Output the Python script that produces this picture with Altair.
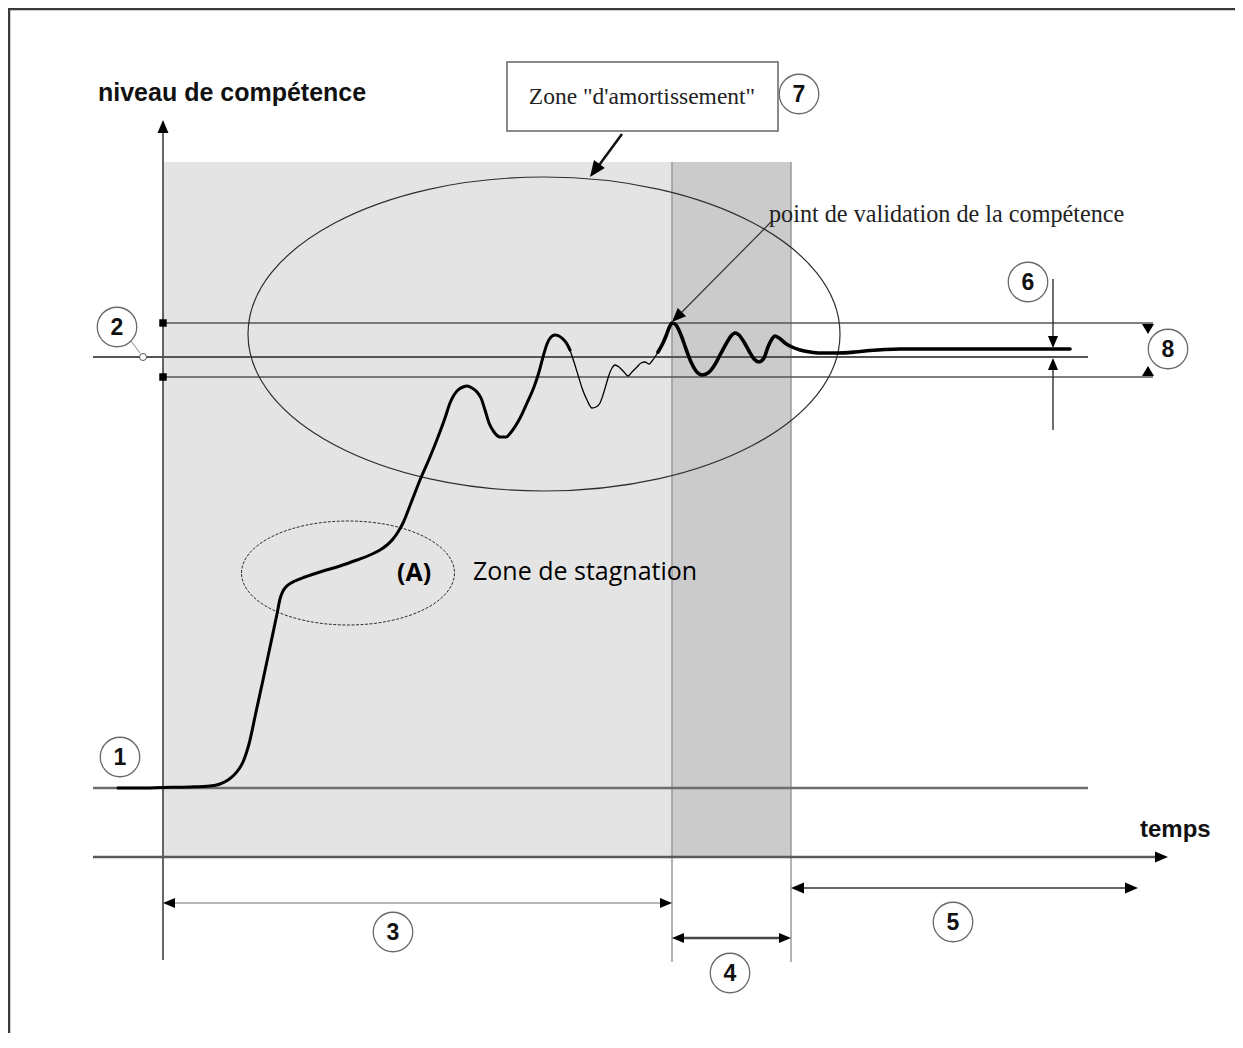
import altair as alt
import pandas as pd

W, H = 1227, 1025
X0, Y0 = 8, 8

# ---------------- data (drawing units: time -> right, level row -> down) ----------------
curve_x = [118, 140, 163, 190, 210, 220, 228, 234, 239, 243, 246, 249, 256, 263, 270, 277, 280, 283, 288, 295,
           305, 323, 340, 357, 370, 380, 387, 393, 398, 403, 411, 420, 430, 438, 445, 450, 454, 458, 463, 467,
           472, 477, 481, 485, 489, 494, 500, 506, 512, 519, 527, 534, 539, 543, 547, 551, 555, 559, 563, 567, 570,
           570, 574, 578, 582, 587, 592, 596, 600, 603, 606, 609, 612, 615, 619, 624, 628, 632, 637, 641, 645,
           649, 652, 655, 658,
           658, 662, 666, 669, 672, 676, 681, 686, 691, 696, 702, 708, 714, 720, 726, 731, 735, 739, 744, 749,
           754, 759, 764, 768, 772, 775, 779, 785, 792, 800, 810, 820, 837, 855, 870, 885, 900, 950, 1010, 1070]
curve_y = [788, 788, 787.5, 787, 786, 784, 780, 775, 769, 762, 754, 744, 712, 680, 647, 614, 599, 591, 585, 581,
           577, 571, 566, 560, 555, 550, 545, 539, 532, 523, 503, 480, 457, 437, 418, 403, 395, 390, 387, 386,
           388, 392, 398, 410, 423, 432, 437, 437, 431, 420, 403, 387, 372, 357, 344, 337, 335, 336, 339, 344, 350,
           350, 362, 375, 388, 400, 408, 407, 403, 395, 385, 375, 368, 365, 367, 372, 376, 372, 367, 363, 362,
           364, 361, 357, 352,
           352, 345, 336, 328, 323, 325, 335, 349, 362, 371, 375, 373, 366, 355, 344, 336, 333, 335, 342, 351,
           359, 362, 358, 347, 339, 336, 338, 343, 347, 350, 352, 353, 353, 352, 350.5, 349.5, 349, 349, 349, 349]
curve_part = ["rise"] * 61 + ["hesitation"] * 24 + ["damping"] * 40

# key levels (rows)
lvl_start, lvl_upper, lvl_target, lvl_lower, lvl_final = 788, 323, 357, 377, 349
lvl_time_axis, lvl_arrow3, lvl_arrow4, lvl_arrow5 = 857, 903, 938, 888
lvl_shade_top, lvl_axis_top, lvl_axis_bottom, lvl_tick_bottom = 162, 120, 960, 962
# key times (columns)
t_left, t_origin, t_valid, t_stable, t_end5 = 93, 163, 672, 791, 1138
t_line_end, t_band_end, t_axis_end, t_mark6, t_mark8 = 1088, 1153, 1168, 1053, 1148

# circled numbers
num_label = ["1", "2", "3", "4", "5", "6", "7", "8"]
num_x = [120, 117, 393, 730, 953, 1028, 799, 1168]
num_y = [757, 327, 932, 973, 922, 282, 94, 349]

# ellipses: centre, half-axes
ell_name = ["amortissement", "stagnation"]
ell_cx = [544, 348]
ell_cy = [334, 573]
ell_rx = [296, 106.5]
ell_ry = [157, 52]

# ---------------- helpers ----------------
xs = alt.Scale(domain=[X0, X0 + W], nice=False, zero=False)
ys = alt.Scale(domain=[Y0 + H, Y0], nice=False, zero=False)


def X(f="x"):
    return alt.X(f"{f}:Q", scale=xs, axis=None)


def Y(f="y"):
    return alt.Y(f"{f}:Q", scale=ys, axis=None)


def segs(rows, color, width, dash=None):
    df = pd.DataFrame(rows, columns=["x", "y", "x2", "y2"])
    kw = dict(color=color, strokeWidth=width, strokeCap="butt")
    if dash:
        kw["strokeDash"] = dash
    return alt.Chart(df).mark_rule(**kw).encode(x=X("x"), y=Y("y"), x2="x2:Q", y2="y2:Q")


def ellipse_path(b):
    k = 0.5523
    return (f"M-1,0 C-1,{-k*b:.4f} {-k},{-b:.4f} 0,{-b:.4f} C{k},{-b:.4f} 1,{-k*b:.4f} 1,0 "
            f"C1,{k*b:.4f} {k},{b:.4f} 0,{b:.4f} C{-k},{b:.4f} -1,{k*b:.4f} -1,0 Z")


ARROW = "M0,0 L-0.42,1 L0.42,1 Z"
ARROW_W = "M0,0 L-0.6,1 L0.6,1 Z"

layers = []

# shaded zones
shade = pd.DataFrame({"x": [t_origin, t_valid], "x2": [t_valid, t_stable],
                      "y": [lvl_shade_top, lvl_shade_top], "y2": [lvl_time_axis, lvl_time_axis],
                      "zone": ["apprentissage", "transition"]})
layers.append(alt.Chart(shade).mark_rect(strokeWidth=0).encode(
    x=X("x"), x2="x2:Q", y=Y("y"), y2="y2:Q",
    color=alt.Color("zone:N", scale=alt.Scale(domain=["apprentissage", "transition"],
                                              range=["#e4e4e4", "#cbcbcb"]), legend=None)))

# frame border (top / left)
layers.append(segs([[X0, 9, X0 + W, 9], [9, Y0, 9, Y0 + H]], "#3a3a3a", 2.5))

# vertical guides
layers.append(segs([[t_valid, lvl_shade_top, t_valid, lvl_tick_bottom],
                    [t_stable, lvl_shade_top, t_stable, lvl_tick_bottom]], "#9a9a9a", 1.5))
# y axis
layers.append(segs([[t_origin, lvl_axis_top + 8, t_origin, lvl_axis_bottom]], "#333333", 1.5))
# time axis and start level
layers.append(segs([[t_left, lvl_time_axis, t_axis_end - 8, lvl_time_axis]], "#5a5a5a", 2.5))
layers.append(segs([[t_left, lvl_start, t_line_end, lvl_start]], "#6e6e6e", 2.5))
# target level and tolerance band
layers.append(segs([[t_left, lvl_target, t_line_end, lvl_target]], "#555555", 2))
layers.append(segs([[t_origin, lvl_upper, t_band_end, lvl_upper],
                    [t_origin, lvl_lower, t_band_end, lvl_lower]], "#555555", 1.5))
# duration arrows
layers.append(segs([[t_origin + 6, lvl_arrow3, t_valid - 6, lvl_arrow3]], "#b8b8b8", 2))
layers.append(segs([[t_valid + 6, lvl_arrow4, t_stable - 6, lvl_arrow4]], "#444444", 2.5))
layers.append(segs([[t_stable + 6, lvl_arrow5, t_end5 - 6, lvl_arrow5]], "#333333", 1.5))
# tolerance (6) arrows
layers.append(segs([[t_mark6, 279, t_mark6, lvl_final - 6], [t_mark6, 430, t_mark6, lvl_target + 6]],
                   "#222222", 1.3))
# callout arrows
layers.append(segs([[622, 134, 597, 168]], "#111111", 2.5))
layers.append(segs([[771, 222, 680, 314]], "#333333", 1.2))
# connector of (2)
layers.append(segs([[131, 341, 140, 353]], "#888888", 1))

# ellipses
ell = pd.DataFrame({"name": ell_name, "x": ell_cx, "y": ell_cy})
for i in range(2):
    b = ell_ry[i] / ell_rx[i]
    size = (2 * ell_rx[i]) ** 2
    kw = dict(shape=ellipse_path(b), size=size, filled=False, opacity=1, color="#2e2e2e",
              strokeWidth=1.2 if i == 0 else 1)
    if i == 1:
        kw["strokeDash"] = [3, 1.5]
    layers.append(alt.Chart(ell.iloc[[i]]).mark_point(**kw).encode(x=X("x"), y=Y("y")))

# competence curve
curve = pd.DataFrame({"x": curve_x, "y": curve_y, "part": curve_part})
curve["i"] = range(len(curve))
widths = {"rise": 3.0, "hesitation": 1.3, "damping": 3.6}
curve["w"] = curve["part"].map(widths)
layers.append(alt.Chart(curve).mark_line(color="#000000", interpolate="monotone",
                                         strokeCap="round", strokeJoin="round").encode(
    x=X("x"), y=Y("y"), detail="part:N", order="i:Q",
    strokeWidth=alt.StrokeWidth("w:Q", scale=None)))

# arrow heads (tip position, direction in degrees clockwise from up, length in px)
heads = pd.DataFrame([
    [t_origin, lvl_axis_top, 0, 13],
    [t_axis_end, lvl_time_axis, 90, 13],
    [590, 177, 216, 16],
    [672, 322, 225, 14],
    [t_origin, lvl_arrow3, 270, 12], [t_valid, lvl_arrow3, 90, 12],
    [t_valid, lvl_arrow4, 270, 12], [t_stable, lvl_arrow4, 90, 12],
    [t_stable, lvl_arrow5, 270, 13], [t_end5, lvl_arrow5, 90, 13],
    [t_mark6, lvl_final - 1, 180, 12], [t_mark6, lvl_target + 1, 0, 12],
], columns=["x", "y", "a", "len"])
heads["s"] = (2 * heads["len"]) ** 2
layers.append(alt.Chart(heads).mark_point(shape=ARROW, filled=True, opacity=1, color="#000000").encode(
    x=X("x"), y=Y("y"), angle=alt.Angle("a:Q", scale=None), size=alt.Size("s:Q", scale=None)))
heads8 = pd.DataFrame([[t_mark8, lvl_upper + 11, 180, 10], [t_mark8, lvl_lower - 11, 0, 10]],
                      columns=["x", "y", "a", "len"])
heads8["s"] = (2 * heads8["len"]) ** 2
layers.append(alt.Chart(heads8).mark_point(shape=ARROW_W, filled=True, opacity=1, color="#000000").encode(
    x=X("x"), y=Y("y"), angle=alt.Angle("a:Q", scale=None), size=alt.Size("s:Q", scale=None)))

# band markers on the axis
marks = pd.DataFrame({"x": [t_origin, t_origin], "y": [lvl_upper, lvl_lower]})
layers.append(alt.Chart(marks).mark_point(shape="square", size=56, filled=True, opacity=1,
                                          color="#000000").encode(x=X("x"), y=Y("y")))
dot = pd.DataFrame({"x": [143], "y": [lvl_target]})
layers.append(alt.Chart(dot).mark_point(shape="circle", size=49, filled=True, opacity=1, fill="#ffffff",
                                        stroke="#555555", strokeWidth=1).encode(x=X("x"), y=Y("y")))

# label box
box = pd.DataFrame({"x": [507], "x2": [778], "y": [62], "y2": [131]})
layers.append(alt.Chart(box).mark_rect(fill="#ffffff", stroke="#666666", strokeWidth=1.5).encode(
    x=X("x"), x2="x2:Q", y=Y("y"), y2="y2:Q"))

# circled numbers
nums = pd.DataFrame({"label": num_label, "x": num_x, "y": num_y})
layers.append(alt.Chart(nums).mark_point(shape="circle", size=1560, filled=True, opacity=1,
                                         fill="#ffffff", stroke="#6a6a6a", strokeWidth=1.3).encode(
    x=X("x"), y=Y("y")))
layers.append(alt.Chart(nums).mark_text(font="Liberation Sans", fontWeight="bold", fontSize=23,
                                        color="#111111", baseline="middle", align="center", dy=1).encode(
    x=X("x"), y=Y("y"), text="label:N"))


def txt(label, x, y, **kw):
    df = pd.DataFrame({"label": [label], "x": [x], "y": [y]})
    return alt.Chart(df).mark_text(baseline="alphabetic", **kw).encode(x=X("x"), y=Y("y"), text="label:N")


layers.append(txt("niveau de compétence", 98, 101, font="Liberation Sans", fontWeight="bold",
                  fontSize=25, align="left", color="#111111"))
layers.append(txt("temps", 1140, 837, font="Liberation Sans", fontWeight="bold",
                  fontSize=24, align="left", color="#111111"))
layers.append(txt('Zone "d\'amortissement"', 642, 104, font="Liberation Serif",
                  fontSize=23.5, align="center", color="#222222"))
layers.append(txt("point de validation de la compétence", 769, 222, font="Liberation Serif",
                  fontSize=24.2, align="left", color="#222222"))
layers.append(txt("(A)", 397, 581, font="Open Sans", fontWeight="bold",
                  fontSize=25, align="left", color="#000000"))
layers.append(txt("Zone de stagnation", 473, 580, font="Open Sans",
                  fontSize=25, align="left", color="#000000"))

chart = alt.layer(*layers).properties(
    width=W, height=H, padding=0, autosize=alt.AutoSizeParams(type="none")
).configure_view(stroke=None)

chart.save("out.html", embed_options={"renderer": "svg", "actions": False})
